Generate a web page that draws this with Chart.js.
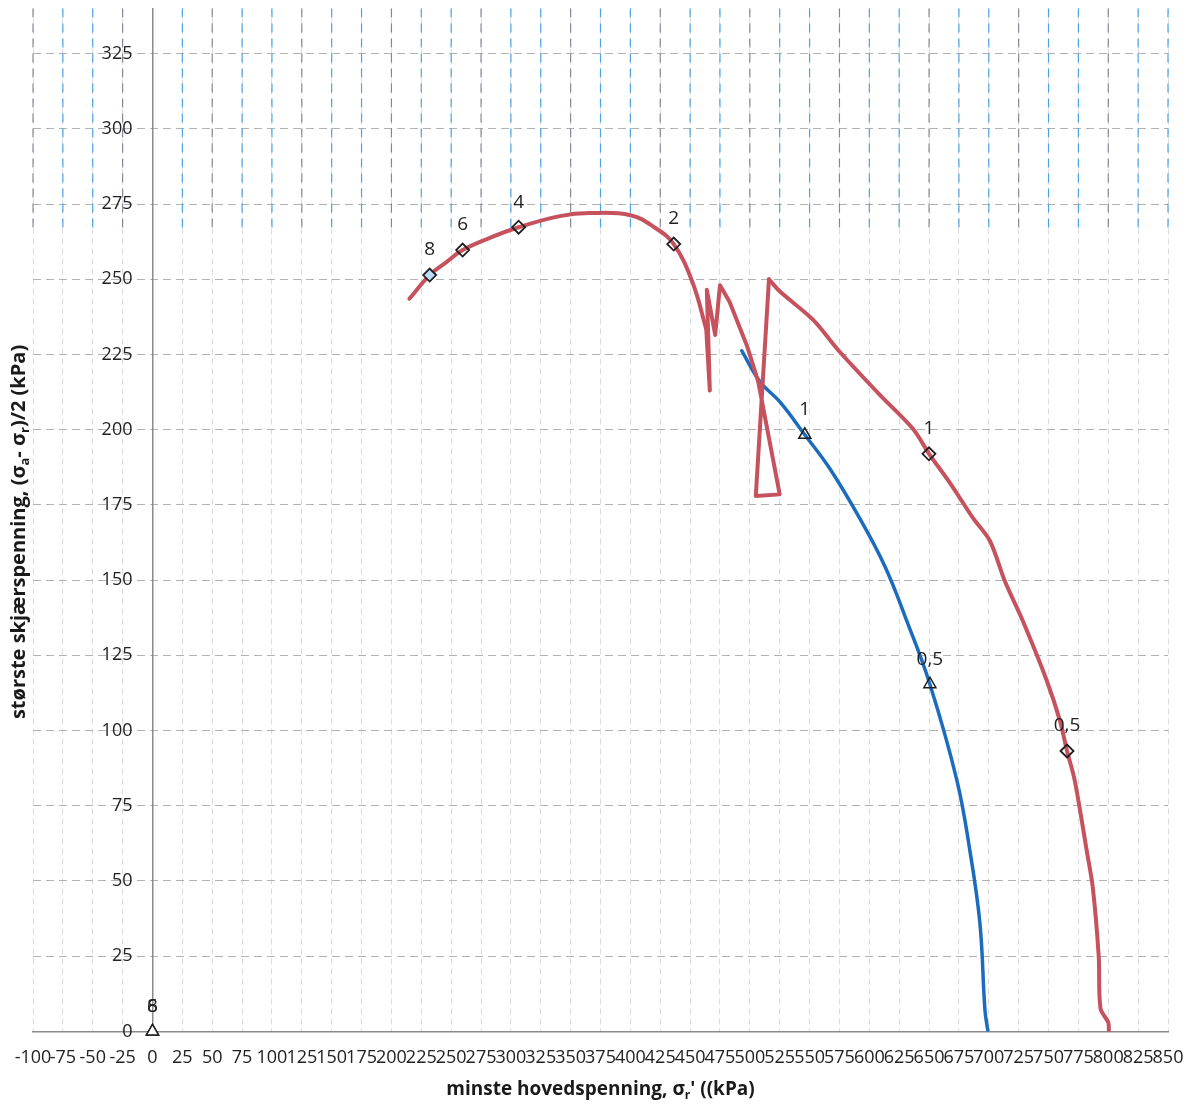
<!DOCTYPE html>
<html>
<head>
<meta charset="utf-8">
<script src="https://cdn.jsdelivr.net/npm/chart.js@4.4.1/dist/chart.umd.min.js"></script>
<style>
  body { margin: 0; background: #fff; }
</style>
</head>
<body>
<canvas id="spenningChart" width="1192" height="1106"></canvas>
<script>
// spenningssti, rød kurve (diamanter) og blå kurve (trekanter)
// rød kurve i tre deler: glatt bue, taggete midtparti, glatt høyre del
const redArcX = [215, 232, 246, 259.6, 282, 306.5, 341, 366, 400, 420, 436.3, 452, 463.5];
const redArcY = [243.5, 251.4, 255.7, 259.7, 263.7, 267.3, 271, 272, 271.3, 267.3, 261.7, 249, 233.5];

const redZigX = [463.5, 466.5, 464, 471, 475, 483, 497.5, 507, 525, 505, 516];
const redZigY = [233.5, 213, 246.5, 231.5, 248, 242.5, 228, 216, 178.5, 178, 250];

const redTailX = [516, 525, 553, 575, 609, 636.5, 650, 668, 687, 701, 713.5, 728.6, 748.7, 759.6, 765.5, 772, 782, 787, 792, 793.5, 800, 800.5];
const redTailY = [250, 246, 236.5, 226, 211.5, 200.3, 192, 182, 170.5, 163, 149.6, 136.3, 116.4, 103.2, 93.2, 83.3, 60, 48, 25, 7.6, 3, 0];

const blueX = [493.3, 508.4, 525, 546, 567, 592, 613, 631.5, 650.7, 673.4, 684.2, 692.6, 696.8, 699.3];
const blueY = [226.2, 216, 209.3, 198.3, 187, 170.5, 154.6, 136.3, 115.4, 83.3, 60, 35.8, 7, 0];

// merkede punkter med tekst
const redMarkX = [232, 259.6, 306.5, 436.3, 649.9, 765.5];
const redMarkY = [251.4, 259.7, 267.3, 261.7, 192, 93.2];
const redMarkLabels = ['8', '6', '4', '2', '1', '0,5'];

const blueMarkX = [546, 650.7];
const blueMarkY = [198.3, 115.4];
const blueMarkLabels = ['1', '0,5'];

const originX = [0, 0];
const originY = [0, 0];
const originLabels = ['8', '6'];

const FONT = "'Open Sans', 'Noto Sans', sans-serif";
const RED = 'rgb(198, 82, 94)';
const BLUE = 'rgb(28, 108, 190)';

const toPoints = (xs, ys) => xs.map((x, i) => ({ x: x, y: ys[i] }));

const lineSet = (xs, ys, color, width, tension) => ({
  data: toPoints(xs, ys),
  showLine: true,
  borderColor: color,
  borderWidth: width,
  pointRadius: 0,
  tension: tension,
  borderJoinStyle: 'round',
  borderCapStyle: 'round'
});

// tekst med senket skrift, deler: [tekst, senket?]
function drawRich(ctx, parts, cx, cy, size) {
  const big = 'bold ' + size + 'px ' + FONT;
  const small = 'bold ' + Math.round(size * 0.65) + 'px ' + FONT;
  let total = 0;
  parts.forEach(p => {
    ctx.font = p[1] ? small : big;
    total += ctx.measureText(p[0]).width;
  });
  let x = cx - total / 2;
  ctx.textAlign = 'left';
  ctx.textBaseline = 'middle';
  parts.forEach(p => {
    ctx.font = p[1] ? small : big;
    ctx.fillText(p[0], x, p[1] ? cy + size * 0.3 : cy);
    x += ctx.measureText(p[0]).width;
  });
}

const extras = {
  id: 'extras',
  beforeDatasetsDraw(chart) {
    // blå stiplede linjer i øvre del av rutenettet
    const { ctx, chartArea, scales } = chart;
    const yEnd = scales.y.getPixelForValue(266);
    ctx.save();
    ctx.lineWidth = 1.2;
    ctx.setLineDash([9, 6]);
    scales.x.ticks.forEach((t, i) => {
      if (t.value === 0) return;
      const px = scales.x.getPixelForValue(t.value);
      ctx.strokeStyle = (i % 3 === 0) ? 'rgba(110,110,130,0.8)' : 'rgba(60,155,225,0.9)';
      ctx.beginPath();
      ctx.moveTo(px, chartArea.top);
      ctx.lineTo(px, yEnd);
      ctx.stroke();
    });

    // verdier på y-aksen, til venstre for aksen ved x = 0
    const x0 = scales.x.getPixelForValue(0);
    ctx.fillStyle = '#222';
    ctx.font = '18px ' + FONT;
    ctx.textAlign = 'right';
    ctx.textBaseline = 'middle';
    scales.y.ticks.forEach(t => {
      ctx.fillText(String(t.value), x0 - 20, scales.y.getPixelForValue(t.value));
    });
    ctx.restore();
  },
  afterDatasetsDraw(chart) {
    const { ctx, chartArea } = chart;
    ctx.save();
    ctx.fillStyle = '#222';
    ctx.font = '19px ' + FONT;
    ctx.textAlign = 'center';
    ctx.textBaseline = 'middle';
    chart.data.datasets.forEach((ds, di) => {
      if (!ds.pointLabels) return;
      chart.getDatasetMeta(di).data.forEach((el, i) => {
        ctx.fillText(ds.pointLabels[i], el.x, el.y - 25);
      });
    });

    // aksetitler
    ctx.fillStyle = '#1a1a1a';
    drawRich(ctx, [['minste hovedspenning, σ', false], ['r', true], ["' ((kPa)", false]],
      (chartArea.left + chartArea.right) / 2, 1090, 19);
    ctx.translate(19, (chartArea.top + chartArea.bottom) / 2 + 12);
    ctx.rotate(-Math.PI / 2);
    drawRich(ctx, [['største skjærspenning, (σ', false], ['a', true], ['- σ', false], ['r', true], [')/2 (kPa)', false]],
      0, 0, 20);
    ctx.restore();
  }
};

new Chart(document.getElementById('spenningChart'), {
  type: 'scatter',
  data: {
    datasets: [{
      label: 'rød merket',
      data: toPoints(redMarkX, redMarkY),
      pointLabels: redMarkLabels,
      pointStyle: 'rectRot',
      pointRadius: 6.5,
      pointBorderWidth: 1.8,
      pointBorderColor: '#1e1e1e',
      pointBackgroundColor: ['rgba(190,220,245,1)', 'rgba(0,0,0,0)', 'rgba(0,0,0,0)', 'rgba(0,0,0,0)', 'rgba(0,0,0,0)', 'rgba(0,0,0,0)'],
      showLine: false
    }, {
      label: 'blå merket',
      data: toPoints(blueMarkX, blueMarkY),
      pointLabels: blueMarkLabels,
      pointStyle: 'triangle',
      pointRadius: 7,
      pointBorderWidth: 1.5,
      pointBorderColor: '#1e1e1e',
      pointBackgroundColor: 'rgba(0,0,0,0)',
      showLine: false
    }, {
      label: 'origo',
      data: toPoints(originX, originY),
      pointLabels: originLabels,
      pointStyle: 'triangle',
      pointRadius: 7,
      pointBorderWidth: 1.5,
      pointBorderColor: '#1e1e1e',
      pointBackgroundColor: 'rgba(255,255,255,1)',
      showLine: false,
      clip: false
    },
      lineSet(redArcX, redArcY, RED, 4, 0.4),
      lineSet(redZigX, redZigY, RED, 4, 0),
      lineSet(redTailX, redTailY, RED, 4, 0.3),
      lineSet(blueX, blueY, BLUE, 3.5, 0.4)
    ]
  },
  options: {
    responsive: false,
    animation: false,
    layout: { padding: { left: 33, right: 24, top: 6, bottom: 21 } },
    plugins: {
      legend: { display: false },
      tooltip: { enabled: false }
    },
    scales: {
      x: {
        type: 'linear',
        min: -100,
        max: 850,
        afterFit: (scale) => {
          scale.paddingLeft = 0;
          scale.paddingRight = 0;
        },
        ticks: {
          stepSize: 25,
          autoSkip: false,
          maxRotation: 0,
          padding: 16,
          color: '#222',
          font: { family: FONT, size: 18 }
        },
        grid: { color: '#dcdcdc', drawTicks: false },
        border: { display: true, color: '#8a8a8a', width: 1.5, dash: [6, 4] }
      },
      y: {
        type: 'linear',
        min: 0,
        max: 340,
        position: { x: 0 },
        afterBuildTicks: (scale) => {
          scale.ticks = scale.ticks.filter(t => t.value % 25 === 0);
        },
        afterFit: (scale) => {
          scale.paddingTop = 0;
          scale.paddingBottom = 0;
        },
        ticks: {
          stepSize: 25,
          display: false
        },
        grid: { color: '#b2b2b2', drawTicks: false },
        border: { display: true, color: '#8a8a8a', width: 1.5, dash: [8, 5] }
      }
    }
  },
  plugins: [extras]
});
</script>
</body>
</html>
